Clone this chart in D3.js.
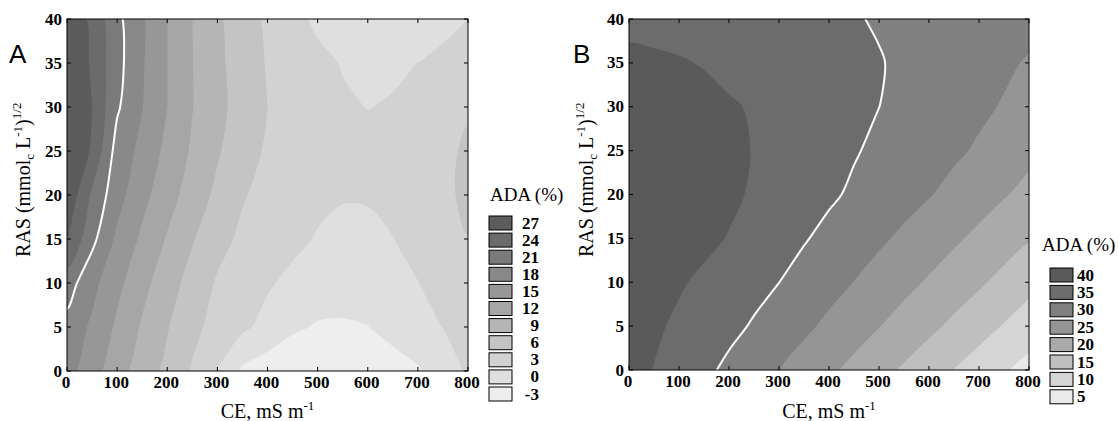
<!DOCTYPE html>
<html><head><meta charset="utf-8">
<script src="https://cdn.jsdelivr.net/npm/d3@7"></script>
<style>body{margin:0;background:#fff} svg{display:block}</style>
</head><body>
<svg id="chart" width="1118" height="421"></svg>
<script>
// grid of sampled CE (mS m-1) and RAS values
const ceGrid = [0,50,100,150,200,250,300,350,400,450,500,550,600,650,700,750,800];
const rasGrid = [0,5,10,15,20,25,30,35,40];
const ceTicks = [0,100,200,300,400,500,600,700,800];
const rasTicks = [0,5,10,15,20,25,30,35,40];

// Panel A: ADA (%) — one row per RAS value (0 ... 40), one column per CE value
const levelsA = [-3,0,3,6,9,12,15,18,21,24];
const legendA = ["27","24","21","18","15","12","9","6","3","0","-3"];
const highlightA = 18;
const adaA = [
  [16.2,13.2,10.2,7.6,5.2,2.7,-0.1,-3.5,-4.6,-5.2,-5.5,-5.4,-5.0,-4.3,-3.3,-1.5,0.4],
  [17.0,14.5,11.5,8.66,6.2,3.74,2.0,0.57,-0.95,-2.53,-3.25,-3.3,-3.05,-1.99,-0.97,0.05,1.1],
  [19.4,15.9,12.8,9.9,7.35,4.85,2.7,1.52,0.35,-0.7,-1.5,-1.8,-1.7,-1.1,-0.05,1.0,2.0],
  [24.2,18.8,14.4,11.45,8.75,6.25,3.92,2.47,1.59,0.7,-0.2,-0.55,-0.55,-0.05,0.9,2.0,2.95],
  [26.4,20.5,16.1,12.9,10.16,7.67,5.36,3.21,2.2,1.3,0.6,0.15,0.2,0.7,1.5,2.4,3.6],
  [28.0,23.5,16.8,14.2,11.2,8.6,6.3,4.33,2.6,1.8,1.2,0.8,0.7,0.9,1.5,2.4,3.4],
  [28.2,24.05,18.4,15.1,12.02,9.1,6.8,4.83,3.02,1.8,0.9,0.35,-0.05,0.2,0.9,1.8,2.7],
  [27.7,23.5,19.0,15.3,12.02,9.06,6.67,4.58,2.79,1.71,0.64,-0.15,-0.45,-0.4,0.02,0.7,1.5],
  [27.0,23.1,18.75,15.4,12.02,9.02,6.5,4.3,2.4,0.75,-0.5,-1.17,-1.6,-1.69,-1.44,-0.85,0.09]
];

// Panel B
const levelsB = [5,10,15,20,25,30,35];
const legendB = ["40","35","30","25","20","15","10","5"];
const highlightB = 30;
const adaB = [
  [36.8,34.85,32.9,31.0,29.05,27.06,25.08,23.0,20.92,18.77,16.58,14.38,12.14,9.91,7.72,5.53,3.33],
  [37.26,35.73,34.2,32.7,31.16,29.56,27.74,25.91,24.03,22.09,20.16,18.13,16.1,14.0,11.85,9.68,7.4],
  [38.2,36.86,35.49,34.13,32.76,31.39,30.03,28.33,26.63,24.93,23.13,21.33,19.5,17.6,15.69,13.63,11.5],
  [38.8,38.2,37.2,36.1,34.76,33.28,31.8,30.33,28.81,27.29,25.76,24.14,22.43,20.72,18.95,17.15,15.35],
  [39.0,38.6,37.9,37.0,35.9,34.44,33.18,31.92,30.66,29.35,27.99,26.63,25.27,23.67,22.0,20.33,18.7],
  [38.8,38.4,37.7,36.8,35.8,34.86,33.73,32.6,31.45,30.32,29.18,28.04,26.9,25.75,24.43,22.77,21.1],
  [37.6,37.3,36.7,36.0,35.35,34.7,33.76,32.83,31.9,30.96,30.02,28.98,27.94,26.9,25.85,24.66,22.8],
  [35.8,35.6,35.3,34.8,34.1,33.4,32.76,32.12,31.48,30.84,30.2,29.38,28.47,27.55,26.64,25.73,24.6],
  [34.0,33.8,33.5,33.1,32.7,32.3,31.8,31.3,30.8,30.25,29.7,29.15,28.6,28.1,27.5,26.9,26.3]
];

const greysA = ["#eeeeee","#dfdfdf","#d2d2d2","#c4c4c4","#b5b5b5","#a6a6a6","#979797","#898989","#7a7a7a","#6b6b6b","#5c5c5c"];
const greysB = ["#eaeaea","#d5d5d5","#bfbfbf","#aaaaaa","#959595","#808080","#6c6c6c","#5a5a5a"];

const svg = d3.select("#chart");
const serif = "'Liberation Serif','Times New Roman',serif";

function drawPanel(cfg) {
  const g = svg.append("g");
  const x = d3.scaleLinear().domain([0, 800]).range([cfg.x0, cfg.x1]);
  const y = d3.scaleLinear().domain([0, 40]).range([cfg.yb, cfg.yt]);
  const nx = ceGrid.length, ny = rasGrid.length;
  const dCE = ceGrid[1] - ceGrid[0], dRAS = rasGrid[1] - rasGrid[0];
  const gx = c => x(ceGrid[0] + (c - 0.5) * dCE);
  const gy = r => y(rasGrid[0] + (r - 0.5) * dRAS);
  const values = cfg.data.flat();
  const contours = d3.contours().size([nx, ny]).thresholds(cfg.levels)(values);
  const line = d3.line().x(p => gx(p[0])).y(p => gy(p[1])).curve(d3.curveCatmullRomClosed.alpha(0.5));
  const ringPath = mp => mp.map(poly => poly.map(ring => line(ring.slice(0, -1))).join("")).join("");

  const clipId = "clip" + cfg.id;
  svg.append("clipPath").attr("id", clipId).append("rect")
    .attr("x", cfg.x0).attr("y", cfg.yt).attr("width", cfg.x1 - cfg.x0).attr("height", cfg.yb - cfg.yt);
  const body = g.append("g").attr("clip-path", `url(#${clipId})`);
  body.append("rect").attr("x", cfg.x0).attr("y", cfg.yt).attr("width", cfg.x1 - cfg.x0)
    .attr("height", cfg.yb - cfg.yt).attr("fill", cfg.colors[0]);
  contours.forEach((c, i) => {
    body.append("path").attr("d", ringPath(c.coordinates)).attr("fill", cfg.colors[i + 1])
      .attr("fill-rule", "evenodd");
  });
  const wc = contours[cfg.levels.indexOf(cfg.highlight)];
  body.append("path").attr("d", ringPath(wc.coordinates)).attr("fill", "none")
    .attr("stroke", "#fff").attr("stroke-width", 2);

  // frame
  g.append("rect").attr("x", cfg.x0).attr("y", cfg.yt).attr("width", cfg.x1 - cfg.x0)
    .attr("height", cfg.yb - cfg.yt).attr("fill", "none").attr("stroke", "#000").attr("stroke-width", 1);
  // inward ticks
  const tl = 4;
  ceTicks.forEach(t => {
    g.append("line").attr("x1", x(t)).attr("x2", x(t)).attr("y1", cfg.yb).attr("y2", cfg.yb - tl).attr("stroke", "#000");
    g.append("line").attr("x1", x(t)).attr("x2", x(t)).attr("y1", cfg.yt).attr("y2", cfg.yt + tl).attr("stroke", "#000");
    g.append("text").attr("x", x(t) - 1).attr("y", cfg.yb + 17).attr("text-anchor", "middle")
      .attr("font-family", serif).attr("font-weight", "bold").attr("font-size", 17).text(t);
  });
  rasTicks.forEach(t => {
    g.append("line").attr("x1", cfg.x0).attr("x2", cfg.x0 + tl).attr("y1", y(t)).attr("y2", y(t)).attr("stroke", "#000");
    g.append("line").attr("x1", cfg.x1).attr("x2", cfg.x1 - tl).attr("y1", y(t)).attr("y2", y(t)).attr("stroke", "#000");
    g.append("text").attr("x", cfg.x0 - 5).attr("y", y(t) + 5.5).attr("text-anchor", "end")
      .attr("font-family", serif).attr("font-weight", "bold").attr("font-size", 17).text(t);
  });

  // x title
  const xt = g.append("text").attr("x", (cfg.x0 + cfg.x1) / 2).attr("y", 418).attr("text-anchor", "middle")
    .attr("font-family", serif).attr("font-size", 20);
  xt.append("tspan").text("CE, mS m");
  xt.append("tspan").attr("dy", -8).attr("font-size", 13).text("-1");

  // y title
  const yt = g.append("text").attr("transform", `translate(${cfg.ytx},257) rotate(-90)`)
    .attr("font-family", serif).attr("font-size", 20);
  yt.append("tspan").text("RAS (mmol");
  yt.append("tspan").attr("dy", 4).attr("font-size", 13).text("c");
  yt.append("tspan").attr("dy", -4).text(" L");
  yt.append("tspan").attr("dy", -8).attr("font-size", 13).text("-1");
  yt.append("tspan").attr("dy", 8).text(")");
  yt.append("tspan").attr("dy", -9).attr("font-size", 13).text("1/2");

  // panel letter
  g.append("text").attr("x", cfg.letterX).attr("y", 63).attr("font-family", "'Liberation Sans',Arial,sans-serif")
    .attr("font-size", 26).text(cfg.letter);

  // legend
  const lg = g.append("g");
  lg.append("text").attr("x", cfg.legTitleX).attr("y", cfg.legTitleY)
    .attr("font-family", serif).attr("font-size", 19).text("ADA (%)");
  cfg.legendLabels.forEach((lab, i) => {
    const top = cfg.legTop + i * cfg.legStep;
    lg.append("rect").attr("x", cfg.legX).attr("y", top).attr("width", 23).attr("height", 14)
      .attr("fill", cfg.colors[cfg.colors.length - 1 - i]).attr("stroke", "#000").attr("stroke-width", 1);
    lg.append("text").attr("x", cfg.labelRight ? cfg.legX + 50 : cfg.legX + 27).attr("y", top + 12.5)
      .attr("text-anchor", cfg.labelRight ? "end" : "start")
      .attr("font-family", serif).attr("font-weight", "bold").attr("font-size", 17).text(lab);
  });
}

drawPanel({id: "A", x0: 67, x1: 468, yt: 19, yb: 371, data: adaA, levels: levelsA, colors: greysA,
  highlight: highlightA, letter: "A", letterX: 9, ytx: 30,
  legendLabels: legendA, legX: 489, legTop: 216, legStep: 17.1, legTitleX: 490, legTitleY: 201, labelRight: true});
drawPanel({id: "B", x0: 629, x1: 1029, yt: 19, yb: 370, data: adaB, levels: levelsB, colors: greysB,
  highlight: highlightB, letter: "B", letterX: 573, ytx: 593,
  legendLabels: legendB, legX: 1050, legTop: 268, legStep: 17.4, legTitleX: 1042, legTitleY: 251, labelRight: false});
</script>
</body></html>
